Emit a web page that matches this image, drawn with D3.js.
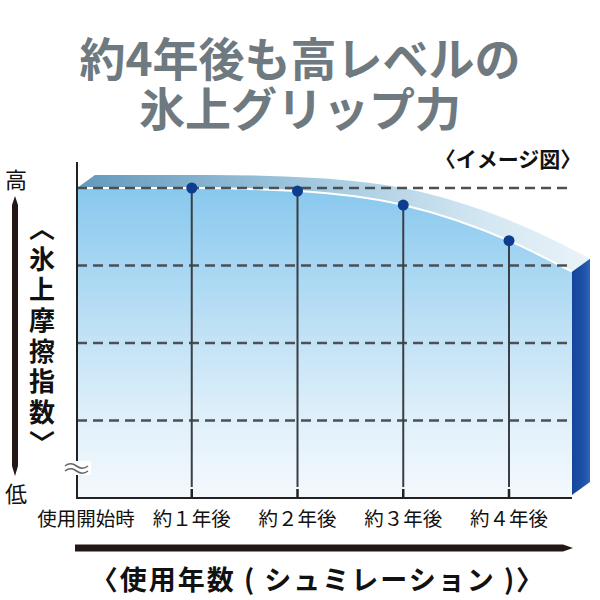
<!DOCTYPE html>
<html><head><meta charset="utf-8">
<script src="https://cdn.jsdelivr.net/npm/d3@7"></script>
<style>body{margin:0;background:#fff}svg{display:block}text{font-family:"Noto Sans CJK JP","Noto Sans",sans-serif}</style>
</head><body>
<script>
// ---- data ----
const titleLines = ["約4年後も高レベルの", "氷上グリップ力"];
const categories = ["使用開始時", "約１年後", "約２年後", "約３年後", "約４年後"];
const pointIndex = [1, 2, 3, 4];
const pointValues = [100, 99, 94.5, 83];
// curve of the image band (position in category units, index value)
const curveT = [-0.085, 0, 1, 2, 3, 4, 4.6];
const curveV = [100, 100, 100, 99, 94.5, 83, 73];
const gridValues = [25, 50, 75, 100];
const yLabel = "〈氷上摩擦指数〉";
const xLabel = "〈使用年数 ( シュミレーション )〉";
const noteLabel = "〈イメージ図〉";

// ---- layout ----
const W = 600, H = 600;
const left = 77, right = 572, bottom = 498;
const depth = {dx: 18, dy: -13};

const svg = d3.select("body").append("svg").attr("width", W).attr("height", H);
const x = d3.scaleLinear().domain([0, 4]).range([86, 509]);
const y = d3.scaleLinear().domain([0, 100]).range([bottom, 188]);

const defs = svg.append("defs");
const gFront = defs.append("linearGradient").attr("id", "front").attr("x1", 0).attr("y1", 0).attr("x2", 0).attr("y2", 1);
[[0, "#88c8ee"], [0.25, "#a6d6f2"], [0.5, "#c4e3f6"], [0.75, "#e0f0fa"], [1, "#f4f9fd"]]
  .forEach(([o, c]) => gFront.append("stop").attr("offset", o).attr("stop-color", c));
const gBand = defs.append("linearGradient").attr("id", "band").attr("x1", 0).attr("y1", 0).attr("x2", 1).attr("y2", 0);
[[0, "#6499bc"], [0.45, "#a0c7de"], [0.8, "#d4e7f2"], [1, "#eaf3f9"]]
  .forEach(([o, c]) => gBand.append("stop").attr("offset", o).attr("stop-color", c));
const gSide = defs.append("linearGradient").attr("id", "side").attr("x1", 0).attr("y1", 0).attr("x2", 1).attr("y2", 0);
[[0, "#16449c"], [0.6, "#1d50a8"], [1, "#2f64b8"]]
  .forEach(([o, c]) => gSide.append("stop").attr("offset", o).attr("stop-color", c));

const curveData = curveT.map((t, i) => ({t, v: curveV[i]}));
const xs = t => Math.min(right, Math.max(left, x(t)));

// front face
svg.append("path").datum(curveData)
  .attr("d", d3.area().x(d => xs(d.t)).y0(bottom).y1(d => y(d.v)).curve(d3.curveMonotoneX))
  .attr("fill", "url(#front)");
// top band
svg.append("path").datum(curveData)
  .attr("d", d3.area()
    .x0(d => xs(d.t)).y0(d => y(d.v))
    .x1(d => xs(d.t) + depth.dx).y1(d => y(d.v) + depth.dy)
    .curve(d3.curveMonotoneX))
  .attr("fill", "url(#band)");
// right side face
const last = curveData[curveData.length - 1];
const rx = xs(last.t), ry = y(last.v);
svg.append("path")
  .attr("d", `M${rx},${ry}L${rx + depth.dx},${ry + depth.dy}L${rx + depth.dx},${bottom - 3 + depth.dy}L${rx},${bottom - 3}Z`)
  .attr("fill", "url(#side)");
// white edge
svg.append("path").datum(curveData)
  .attr("d", d3.line().x(d => xs(d.t)).y(d => y(d.v)).curve(d3.curveMonotoneX))
  .attr("fill", "none").attr("stroke", "#fff").attr("stroke-width", 2);

// grid
svg.append("g").selectAll("line").data(gridValues).join("line")
  .attr("x1", left).attr("x2", right).attr("y1", d => y(d)).attr("y2", d => y(d))
  .attr("stroke", "#4b5055").attr("stroke-width", 2.5).attr("stroke-dasharray", "10,6");

// vertical drop lines
svg.append("g").selectAll("line").data(pointIndex).join("line")
  .attr("x1", d => x(d)).attr("x2", d => x(d))
  .attr("y1", (d, i) => y(pointValues[i])).attr("y2", bottom - 11)
  .attr("stroke", "#3a3f44").attr("stroke-width", 2);
svg.append("g").selectAll("line").data(pointIndex).join("line")
  .attr("x1", d => x(d)).attr("x2", d => x(d))
  .attr("y1", bottom - 9).attr("y2", bottom)
  .attr("stroke", "#222").attr("stroke-width", 2.5);

// axes
svg.append("line").attr("x1", left).attr("x2", left).attr("y1", 162).attr("y2", bottom + 1)
  .attr("stroke", "#222").attr("stroke-width", 2);
svg.append("line").attr("x1", left - 1).attr("x2", right).attr("y1", bottom).attr("y2", bottom)
  .attr("stroke", "#222").attr("stroke-width", 2);

// dots
svg.append("g").selectAll("circle").data(pointIndex).join("circle")
  .attr("cx", d => x(d)).attr("cy", (d, i) => y(pointValues[i])).attr("r", 5.5)
  .attr("fill", "#0c3d8e");

// axis break
svg.append("rect").attr("x", 63).attr("y", 461).attr("width", 28).attr("height", 14).attr("fill", "#fff");
[466, 471].forEach(yy => svg.append("path")
  .attr("d", `M65,${yy} q5.5,-4.5 11.5,0 t11.5,0`)
  .attr("fill", "none").attr("stroke", "#666").attr("stroke-width", 1.6));

// x labels
svg.append("g").selectAll("text").data(categories).join("text")
  .attr("x", (d, i) => x(i)).attr("y", 526).attr("text-anchor", "middle")
  .attr("font-size", 19.5).attr("fill", "#111").text(d => d);

// title (one text element, two lines)
const title = svg.append("text").attr("text-anchor", "middle")
  .attr("font-size", 46).attr("font-weight", 700).attr("fill", "#6e7980");
title.selectAll("tspan").data(titleLines).join("tspan")
  .attr("x", 300).attr("y", (d, i) => 76 + i * 50).text(d => d);

// note
svg.append("text").attr("x", 508).attr("y", 167).attr("text-anchor", "middle")
  .attr("font-size", 21).attr("font-weight", 700).attr("fill", "#111").text(noteLabel);

// 高 / 低 and arrow
svg.append("text").attr("x", 16).attr("y", 188).attr("text-anchor", "middle")
  .attr("font-size", 22).attr("fill", "#111").text("高");
svg.append("text").attr("x", 16).attr("y", 502).attr("text-anchor", "middle")
  .attr("font-size", 22).attr("fill", "#111").text("低");
svg.append("path").attr("d", "M15,196 L18,205 L18,466 L15,476 L12,466 L12,205 Z").attr("fill", "#231815");

// vertical y label (vertical writing mode)
svg.append("text").attr("x", 42).attr("y", 215)
  .style("writing-mode", "vertical-rl")
  .attr("font-size", 26).attr("font-weight", 700).attr("letter-spacing", 4.7)
  .attr("fill", "#111").text(yLabel);

// bottom arrow
svg.append("path").attr("d", "M75,544.5 L563,544.5 L573,548 L563,551.5 L75,551.5 Z").attr("fill", "#231815");
svg.append("text").attr("x", 318).attr("y", 590).attr("text-anchor", "middle")
  .attr("font-size", 27).attr("font-weight", 700).attr("letter-spacing", 2).attr("fill", "#111").text(xLabel);
</script>
</body></html>
